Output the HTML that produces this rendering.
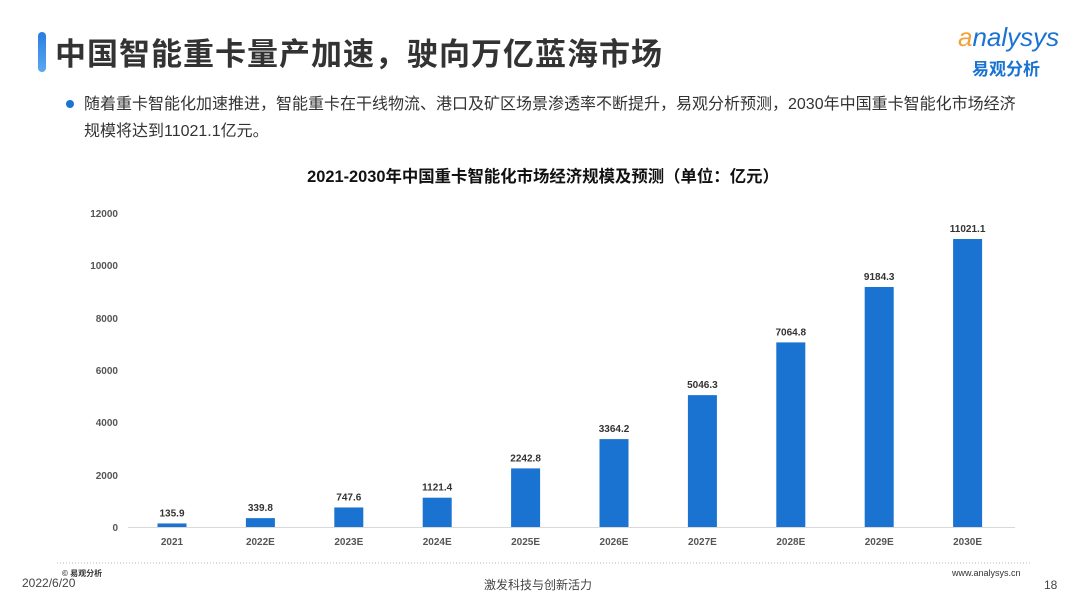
<!DOCTYPE html>
<html><head><meta charset="utf-8"><style>
body{margin:0;width:1080px;height:608px;background:#fff;overflow:hidden;position:relative;font-family:"Liberation Sans","Noto Sans CJK SC",sans-serif}
.t{position:absolute;white-space:nowrap}
</style></head><body>
<div style="position:absolute;left:38px;top:32px;width:8px;height:40px;border-radius:4px;background:linear-gradient(#2a7de1,#5aa9f0)"></div>
<div class="t" style="left:55px;top:29px;font-size:31px;font-weight:bold;color:#333;letter-spacing:1px">中国智能重卡量产加速，驶向万亿蓝海市场</div>
<div class="t" style="left:958px;top:22px;font-size:26px;font-style:italic;color:#1a73d0;font-family:'Liberation Sans',sans-serif"><span style="color:#f2a23a">a</span>nalysys</div>
<div class="t" style="left:972px;top:55px;font-size:17px;font-weight:bold;color:#1a73d0">易观分析</div>
<div style="position:absolute;left:66px;top:100px;width:8px;height:8px;border-radius:50%;background:#1a73d0"></div>
<div class="t" style="left:84px;top:91px;font-size:16px;color:#333;line-height:27px">随着重卡智能化加速推进，智能重卡在干线物流、港口及矿区场景渗透率不断提升，易观分析预测，2030年中国重卡智能化市场经济<br>规模将达到11021.1亿元。</div>
<div class="t" style="left:0;width:1080px;text-align:center;top:163px;font-size:16.4px;font-weight:bold;color:#111;padding-left:3px">2021-2030年中国重卡智能化市场经济规模及预测（单位：亿元）</div>
<svg width="1080" height="608" style="position:absolute;left:0;top:0" font-family="Liberation Sans, sans-serif">
<g font-size="10" font-weight="bold" fill="#555" text-anchor="end">
<text x="118" y="531">0</text><text x="118" y="479">2000</text><text x="118" y="426">4000</text><text x="118" y="374">6000</text><text x="118" y="322">8000</text><text x="118" y="269">10000</text><text x="118" y="217">12000</text>
</g>
<line x1="128" y1="527.5" x2="1015" y2="527.5" stroke="#d9d9d9"/>
<g id="b" fill="#1a73d0"></g>
<g id="l" font-size="10" font-weight="bold" fill="#333" text-anchor="middle"></g>
<line x1="57" y1="563" x2="1030" y2="563" stroke="#bbb" stroke-dasharray="1,2"/>
</svg>
<div class="t" style="left:62px;top:568px;font-size:8px;color:#333;font-weight:bold">© 易观分析</div>
<div class="t" style="left:22px;top:576px;font-size:12px;color:#444">2022/6/20</div>
<div class="t" style="left:484px;top:576px;font-size:12px;color:#444">激发科技与创新活力</div>
<div class="t" style="left:952px;top:568px;font-size:9px;color:#333">www.analysys.cn</div>
<div class="t" style="left:1044px;top:578px;font-size:12px;color:#444">18</div>
<script>
var v=[135.9,339.8,747.6,1121.4,2242.8,3364.2,5046.3,7064.8,9184.3,11021.1],n=["2021","2022E","2023E","2024E","2025E","2026E","2027E","2028E","2029E","2030E"];
var b=document.getElementById('b'),l=document.getElementById('l'),ns="http://www.w3.org/2000/svg";
for(var i=0;i<10;i++){var c=172+i*88.4,h=v[i]*0.02613;
var r=document.createElementNS(ns,'rect');r.setAttribute('x',c-14.5);r.setAttribute('y',527-h);r.setAttribute('width',29);r.setAttribute('height',h);b.appendChild(r);
var t=document.createElementNS(ns,'text');t.setAttribute('x',c);t.setAttribute('y',527-h-7);t.textContent=v[i];l.appendChild(t);
var u=document.createElementNS(ns,'text');u.setAttribute('x',c);u.setAttribute('y',545);u.setAttribute('fill','#555');u.textContent=n[i];l.appendChild(u);}
</script>
</body></html>
